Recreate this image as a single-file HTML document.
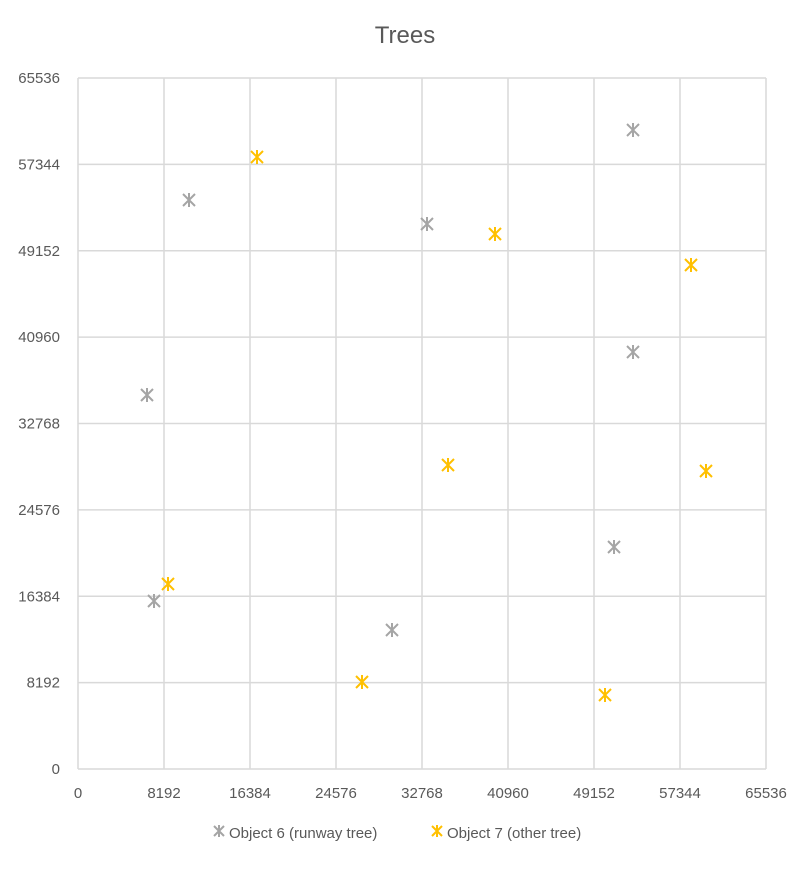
<!DOCTYPE html>
<html><head><meta charset="utf-8"><style>
body{margin:0;background:#fff;font-family:"Liberation Sans",sans-serif;}
svg text{font-family:"Liberation Sans",sans-serif;fill:#595959;}
</style></head><body>
<svg id="chart" width="810" height="864">
<text x="405" y="43" text-anchor="middle" font-size="24">Trees</text>
<g id="grid"></g><g id="marks"></g>
<g>
<g>
<path d="M214,826 l10,10 M224,826 l-10,10 M219,825 v12" stroke="#a5a5a5" stroke-width="2"/>
<text x="229" y="838" font-size="15">Object 6 (runway tree)</text></g>
<g>
<path d="M432,826 l10,10 M442,826 l-10,10 M437,825 v12" stroke="#ffc000" stroke-width="2"/>
<text x="447" y="838" font-size="15">Object 7 (other tree)</text></g>
</g>
</svg>
<script>
const ticks=[0,8192,16384,24576,32768,40960,49152,57344,65536];
const obj6X=[6573,7240,10574,29910,33244,51058,52868,52868];
const obj6Y=[35471,15933,53966,13183,51690,21055,60604,39549];
const obj7X=[8573,17051,27053,35245,39722,50201,58392,59821];
const obj7Y=[17546,58044,8251,28832,50741,7018,47801,28263];
const L=78,R=766,T=78,B=769;
const sx=v=>L+v/65536*(R-L), sy=v=>B-v/65536*(B-T);
const NS="http://www.w3.org/2000/svg";
const g=document.getElementById('grid'), m=document.getElementById('marks');
function mk(tag,attrs,parent){const e=document.createElementNS(NS,tag);for(const k in attrs)e.setAttribute(k,attrs[k]);parent.appendChild(e);return e;}
ticks.forEach(t=>{
 const v=mk('line',{x1:sx(t),x2:sx(t),y1:T,y2:B,stroke:'#d9d9d9','stroke-width':1.5},g);
 
 
 const h=mk('line',{x1:L,x2:R,y1:sy(t),y2:sy(t),stroke:'#d9d9d9','stroke-width':1.5},g);
 
 
 const xl=mk('text',{x:sx(t),y:798,'text-anchor':'middle','font-size':15},g);xl.textContent=t;
 
 
 const yl=mk('text',{x:60,y:sy(t)+5,'text-anchor':'end','font-size':15},g);yl.textContent=t;
 
 
});
function pts(xs,ys,color,name){
 xs.forEach((x,i)=>{const cx=sx(x),cy=sy(ys[i]);
  const p=mk('path',{d:`M${cx-6},${cy-6} L${cx+6},${cy+6} M${cx+6},${cy-6} L${cx-6},${cy+6} M${cx},${cy-7} V${cy+7}`,stroke:color,'stroke-width':2},m);
  
  
 });
}
pts(obj6X,obj6Y,'#a5a5a5','object-6-point');
pts(obj7X,obj7Y,'#ffc000','object-7-point');
</script>
</body></html>
